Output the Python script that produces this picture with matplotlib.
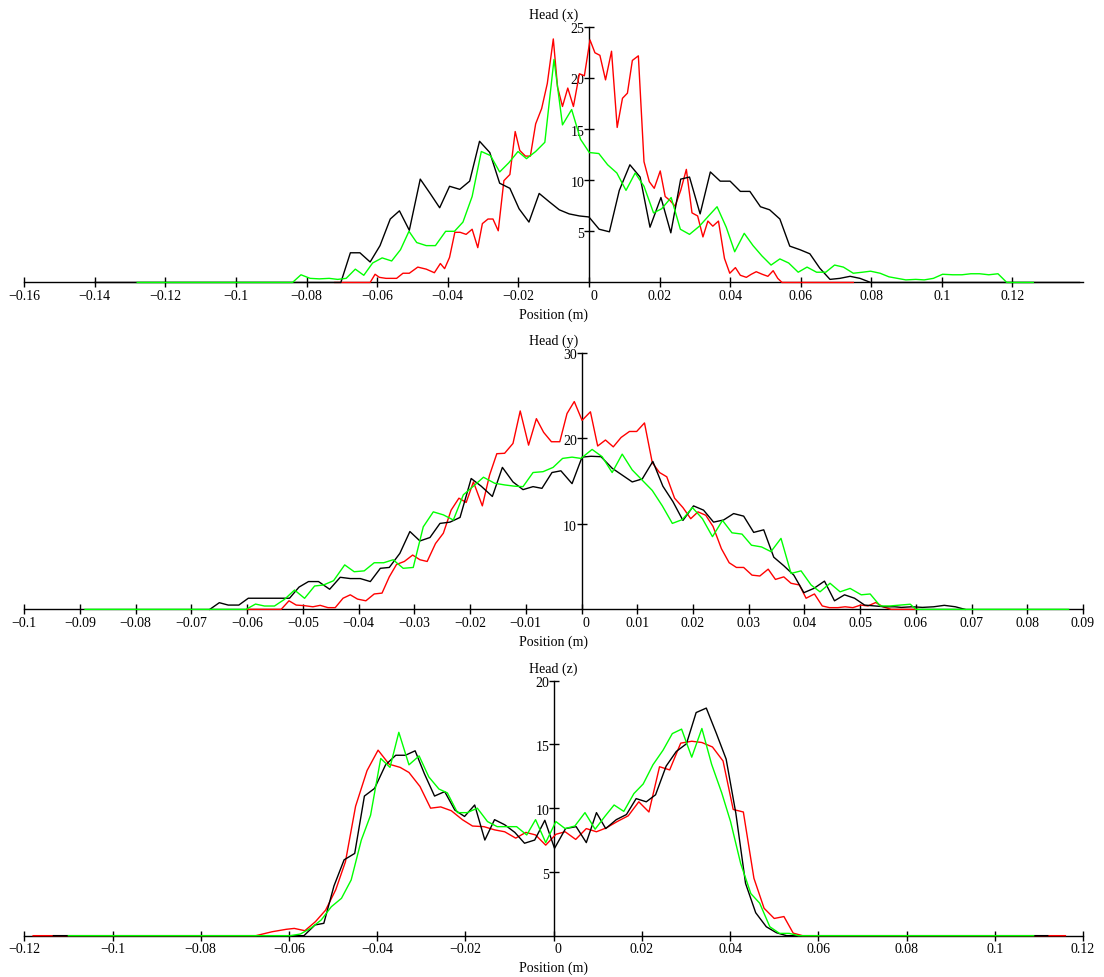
import matplotlib
matplotlib.use('Agg')
import matplotlib.pyplot as plt
import matplotlib.transforms as mtransforms

plt.rcParams['font.family'] = ['Liberation Serif', 'DejaVu Serif']
plt.rcParams['font.size'] = 10

# ---------------------------------------------------------------
# Head (x)
headx_black_x = [-0.14, -0.0703, -0.0676, -0.0649, -0.0620, -0.0592, -0.0563, -0.0537, -0.0509,
                 -0.0478, -0.0450, -0.0423, -0.0395, -0.0366, -0.0338, -0.0310, -0.0281, -0.0253,
                 -0.0224, -0.0198, -0.0170, -0.0141, -0.0113, -0.0084, -0.0056, -0.0027, 0.0,
                 0.0029, 0.0058, 0.0086, 0.0116, 0.0145, 0.0173, 0.0204, 0.0232, 0.0260, 0.0285,
                 0.0315, 0.0344, 0.0372, 0.0400, 0.0429, 0.0456, 0.0486, 0.0512, 0.0541, 0.0569,
                 0.0598, 0.0626, 0.0654, 0.0683, 0.0711, 0.0740, 0.0768, 0.0798, 0.139]
headx_black_y = [0, 0, 2.9, 2.9, 2.0, 3.6, 6.2, 7.0, 5.1,
                 10.1, 8.7, 7.3, 9.4, 9.1, 9.9, 13.8, 12.7, 9.7,
                 9.2, 7.2, 5.9, 8.7, 7.9, 7.1, 6.7, 6.5, 6.4,
                 5.2, 4.95, 9.0, 11.5, 10.3, 5.4, 8.3, 4.85, 10.1, 10.3,
                 6.7, 10.8, 9.9, 9.9, 8.9, 8.9, 7.4, 7.1, 6.2, 3.55,
                 3.2, 2.8, 1.4, 0.3, 0.4, 0.6, 0.4, 0, 0]

headx_green_x = [-0.128, -0.084, -0.0816, -0.0790, -0.0764, -0.0736, -0.0712, -0.0688, -0.0662,
                 -0.0638, -0.0613, -0.0586, -0.0559, -0.0534, -0.0510, -0.0488, -0.0461, -0.0435,
                 -0.0406, -0.0381, -0.0357, -0.0331, -0.0305, -0.0279, -0.0253, -0.0227, -0.0201,
                 -0.0177, -0.0151, -0.0125, -0.0099, -0.0075, -0.0049, -0.0024, 0.0001, 0.0028,
                 0.0053, 0.0079, 0.0105, 0.0131, 0.0156, 0.0183, 0.0206, 0.0233, 0.0259, 0.0285,
                 0.0313, 0.0339, 0.0363, 0.0389, 0.0413, 0.0440, 0.0465, 0.0490, 0.0516, 0.0541,
                 0.0566, 0.0593, 0.0618, 0.0645, 0.0671, 0.0696, 0.0721, 0.0749, 0.0775, 0.0798,
                 0.0825, 0.0850, 0.0874, 0.0898, 0.0926, 0.0950, 0.0976, 0.1002, 0.1031, 0.1057,
                 0.1082, 0.1107, 0.1133, 0.1159, 0.1184, 0.1259]
headx_green_y = [0, 0, 0.75, 0.4, 0.35, 0.4, 0.3, 0.4, 1.3,
                 0.7, 1.9, 2.4, 2.1, 3.2, 5.0, 3.9, 3.6, 3.6,
                 5.0, 5.0, 5.9, 8.4, 12.8, 12.4, 10.8, 11.7, 12.8,
                 12.1, 12.8, 13.7, 21.8, 15.4, 16.9, 14.0, 12.7, 12.6,
                 11.5, 10.7, 9.0, 10.7, 9.4, 6.8, 7.2, 8.3, 5.2, 4.7,
                 5.5, 6.5, 7.4, 5.4, 3.0, 4.8, 3.6, 2.6, 1.7, 2.3,
                 1.9, 1.0, 1.5, 1.0, 1.0, 1.7, 1.5, 0.9, 1.0, 1.1,
                 0.9, 0.55, 0.4, 0.25, 0.3, 0.25, 0.4, 0.8, 0.75, 0.75,
                 0.85, 0.85, 0.75, 0.85, 0, 0]

headx_red_x = [-0.072, -0.0620, -0.0606, -0.0594, -0.0575, -0.0545, -0.0527, -0.0509, -0.0485,
               -0.0461, -0.0438, -0.0421, -0.0409, -0.0395, -0.0380, -0.0365, -0.0348, -0.0331,
               -0.0315, -0.0302, -0.0286, -0.0272, -0.0257, -0.0241, -0.0224, -0.0209, -0.0196,
               -0.0180, -0.0166, -0.0151, -0.0134, -0.0118, -0.0101, -0.0089, -0.0075, -0.0060,
               -0.0044, -0.0027, -0.0013, 0.0003, 0.0017, 0.0031, 0.0047, 0.0064, 0.0080, 0.0095,
               0.0109, 0.0123, 0.0140, 0.0156, 0.0171, 0.0185, 0.0202, 0.0216, 0.0230, 0.0244,
               0.0260, 0.0276, 0.0292, 0.0308, 0.0323, 0.0337, 0.0351, 0.0367, 0.0384, 0.0399,
               0.0415, 0.0429, 0.0446, 0.0460, 0.0474, 0.0491, 0.0507, 0.0522, 0.0535, 0.0547,
               0.0749]
headx_red_y = [0, 0, 0.8, 0.5, 0.4, 0.4, 0.9, 0.9, 1.5,
               1.3, 0.95, 1.85, 1.35, 2.45, 4.9, 4.9, 4.7, 5.2,
               3.4, 5.75, 6.2, 6.2, 5.05, 9.95, 10.55, 14.75, 12.9,
               12.35, 12.35, 15.5, 17.0, 19.45, 23.8, 19.1, 17.2, 19.0,
               17.2, 20.4, 20.2, 23.7, 22.45, 22.2, 19.8, 22.6, 15.15, 18.0,
               18.5, 21.7, 22.15, 11.8, 9.85, 9.2, 10.9, 8.4, 8.0, 7.45,
               9.0, 11.05, 6.8, 6.5, 4.45, 6.0, 5.5, 6.0, 2.35, 0.9,
               1.45, 0.7, 0.5, 0.8, 1.05, 0.8, 0.6, 1.15, 0.4, 0,
               0]

# ---------------------------------------------------------------
# Head (y)
heady_black_x = [-0.0667, -0.0650, -0.0634, -0.0615, -0.0598, -0.0524, -0.0507, -0.0490, -0.0472,
                 -0.0452, -0.0433, -0.0415, -0.0397, -0.0379, -0.0361, -0.0345, -0.0326, -0.0308,
                 -0.0290, -0.0272, -0.0254, -0.0236, -0.0218, -0.0198, -0.0180, -0.0160, -0.0142,
                 -0.0123, -0.0105, -0.0087, -0.0071, -0.0053, -0.0037, -0.0017, 0.0001, 0.0017,
                 0.0035, 0.0055, 0.0073, 0.0091, 0.0109, 0.0128, 0.0146, 0.0164, 0.0182, 0.0201,
                 0.0219, 0.0237, 0.0255, 0.0273, 0.0291, 0.0309, 0.0327, 0.0345, 0.0363, 0.0381,
                 0.0399, 0.0417, 0.0436, 0.0454, 0.0472, 0.0490, 0.0508, 0.0526, 0.0544, 0.0562,
                 0.0574, 0.0593, 0.0612, 0.0632, 0.0651, 0.0671, 0.0688]
heady_black_y = [0, 0.78, 0.5, 0.5, 1.3, 1.3, 2.6, 3.25, 3.25,
                 2.35, 3.75, 3.6, 3.6, 3.25, 4.8, 4.9, 6.55, 9.1,
                 8.0, 8.4, 10.05, 10.2, 10.75, 15.3, 14.4, 13.2, 16.6,
                 14.9, 14.0, 14.35, 14.15, 16.0, 16.2, 14.7, 17.8, 17.9,
                 17.85, 16.5, 15.7, 14.9, 15.25, 17.3, 14.4, 12.6, 10.4, 12.1,
                 11.6, 10.2, 10.45, 11.2, 10.9, 9.0, 9.3, 6.1, 5.1, 4.0,
                 1.95, 2.45, 3.3, 1.0, 1.7, 1.3, 0.5, 0.4, 0.3, 0.3,
                 0.23, 0.3, 0.23, 0.3, 0.47, 0.3, 0]

heady_green_x = [-0.0891, -0.0602, -0.0585, -0.0569, -0.0551, -0.0533, -0.0515, -0.0497, -0.0479,
                 -0.0463, -0.0445, -0.0425, -0.0408, -0.0390, -0.0372, -0.0355, -0.0338, -0.0320,
                 -0.0302, -0.0284, -0.0266, -0.0248, -0.0230, -0.0212, -0.0194, -0.0176, -0.0156,
                 -0.0138, -0.0120, -0.0105, -0.0087, -0.0069, -0.0051, -0.0034, -0.0017, -0.0001,
                 0.0019, 0.0037, 0.0055, 0.0073, 0.0091, 0.0109, 0.0127, 0.0145, 0.0163, 0.0181,
                 0.0199, 0.0217, 0.0235, 0.0253, 0.0270, 0.0288, 0.0305, 0.0323, 0.0340, 0.0358,
                 0.0376, 0.0394, 0.0412, 0.0428, 0.0446, 0.0464, 0.0482, 0.0502, 0.0518, 0.0536,
                 0.0554, 0.0572, 0.0590, 0.0600, 0.0874]
heady_green_y = [0, 0, 0.62, 0.39, 0.39, 1.17, 2.26, 1.29, 2.73,
                 2.85, 3.35, 5.2, 4.4, 4.5, 5.45, 5.45, 5.8, 4.8,
                 4.9, 9.65, 11.4, 11.05, 10.45, 13.4, 14.4, 15.45, 14.75,
                 14.55, 14.4, 14.35, 16.0, 16.1, 16.6, 17.65, 17.8, 17.65,
                 18.7, 17.85, 16.0, 18.15, 16.3, 15.1, 13.9, 12.1, 10.05, 10.5,
                 11.9, 10.6, 8.5, 10.4, 8.95, 8.8, 7.5, 7.3, 6.75, 8.3,
                 4.2, 4.5, 2.85, 2.05, 3.05, 2.05, 2.45, 1.7, 1.8, 0.4,
                 0.4, 0.5, 0.6, 0, 0]

heady_red_x = [-0.0600, -0.0539, -0.0525, -0.0512, -0.0497, -0.0482, -0.0469, -0.0455, -0.0442,
               -0.0428, -0.0415, -0.0402, -0.0387, -0.0372, -0.0358, -0.0345, -0.0332, -0.0318,
               -0.0303, -0.0290, -0.0277, -0.0262, -0.0248, -0.0234, -0.0220, -0.0207, -0.0194,
               -0.0178, -0.0165, -0.0152, -0.0138, -0.0123, -0.0110, -0.0095, -0.0081, -0.0068,
               -0.0054, -0.0039, -0.0026, -0.0013, 0.0001, 0.0016, 0.0029, 0.0043, 0.0057, 0.0071,
               0.0086, 0.0099, 0.0113, 0.0127, 0.0140, 0.0153, 0.0167, 0.0182, 0.0196, 0.0209,
               0.0223, 0.0236, 0.0251, 0.0265, 0.0278, 0.0291, 0.0306, 0.0320, 0.0335, 0.0348,
               0.0363, 0.0376, 0.0391, 0.0403, 0.0418, 0.0432, 0.0445, 0.0460, 0.0473, 0.0487,
               0.0501, 0.0514, 0.0528, 0.0541, 0.0556, 0.0603]
heady_red_y = [0, 0, 1.0, 0.5, 0.43, 0.3, 0.47, 0.2, 0.2,
               1.3, 1.7, 1.2, 1.0, 1.8, 1.9, 3.8, 5.25, 5.6,
               6.35, 5.8, 5.6, 7.7, 8.9, 11.6, 13.0, 12.5, 14.9,
               12.1, 15.7, 18.2, 18.25, 19.4, 23.2, 19.2, 22.3, 20.7,
               19.6, 19.6, 22.9, 24.3, 22.1, 23.1, 19.1, 19.8, 19.0, 20.1,
               20.8, 20.8, 21.8, 17.15, 16.0, 15.5, 13.0, 11.9, 10.6, 11.4,
               11.0, 9.7, 7.1, 5.45, 4.9, 4.9, 4.0, 3.9, 4.7, 3.5,
               3.8, 3.05, 2.85, 1.3, 1.8, 0.4, 0.2, 0.2, 0.3, 0.2,
               0.5, 0.4, 0.8, 0.3, 0, 0]

# ---------------------------------------------------------------
# Head (z)
headz_black_x = [-0.1134, -0.0566, -0.0541, -0.0521, -0.0498, -0.0475, -0.0451, -0.0429, -0.0406,
                 -0.0381, -0.0358, -0.0336, -0.0314, -0.0293, -0.0270, -0.0247, -0.0224, -0.0202,
                 -0.0179, -0.0156, -0.0134, -0.0111, -0.0088, -0.0066, -0.0043, -0.0020, 0.0002,
                 0.0027, 0.0051, 0.0074, 0.0097, 0.0118, 0.0142, 0.0165, 0.0187, 0.0210, 0.0231,
                 0.0255, 0.0278, 0.0301, 0.0323, 0.0346, 0.0369, 0.0391, 0.0413, 0.0435, 0.0458,
                 0.0482, 0.0505, 0.0528, 0.1120]
headz_black_y = [0, 0, 0.84, 0.97, 3.9, 5.95, 6.45, 10.95, 11.55,
                 13.4, 14.15, 14.15, 14.5, 12.7, 10.95, 11.3, 9.85, 9.35,
                 10.25, 7.5, 9.1, 8.7, 8.1, 7.25, 7.5, 9.05, 6.85,
                 8.4, 8.55, 7.3, 9.65, 8.4, 9.1, 9.5, 10.75, 10.5, 11.05,
                 13.3, 14.45, 15.05, 17.5, 17.85, 15.85, 13.85, 9.6, 4.1, 1.8,
                 0.7, 0.23, 0, 0]

headz_green_x = [-0.1100, -0.0597, -0.0574, -0.0551, -0.0527, -0.0504, -0.0481, -0.0459, -0.0436,
                 -0.0415, -0.0392, -0.0371, -0.0351, -0.0328, -0.0305, -0.0283, -0.0260, -0.0241,
                 -0.0218, -0.0196, -0.0173, -0.0150, -0.0128, -0.0105, -0.0084, -0.0061, -0.0041,
                 -0.0018, 0.0005, 0.0026, 0.0048, 0.0071, 0.0094, 0.0116, 0.0137, 0.0159, 0.0182,
                 0.0203, 0.0225, 0.0248, 0.0269, 0.0290, 0.0313, 0.0336, 0.0358, 0.0381, 0.0401,
                 0.0424, 0.0447, 0.0467, 0.0490, 0.0512, 0.0534, 0.0555, 0.1088]
headz_green_y = [0, 0, 0.13, 0.58, 1.23, 2.27, 2.93, 4.37, 7.5,
                 9.45, 13.9, 13.2, 15.95, 13.4, 14.1, 12.45, 11.5, 11.2,
                 9.65, 9.65, 10.0, 8.95, 8.55, 8.55, 8.55, 7.9, 9.1,
                 7.3, 8.95, 8.4, 8.6, 9.65, 8.35, 9.35, 10.25, 9.75, 11.15,
                 11.9, 13.4, 14.55, 15.85, 16.2, 14.0, 16.25, 13.45, 11.2, 8.95,
                 5.65, 3.3, 2.55, 0.7, 0.18, 0.18, 0, 0]

headz_red_x = [-0.1180, -0.0675, -0.0638, -0.0606, -0.0588, -0.0564, -0.0540, -0.0517, -0.0494,
               -0.0472, -0.0449, -0.0423, -0.0398, -0.0373, -0.0348, -0.0328, -0.0303, -0.0279,
               -0.0256, -0.0232, -0.0207, -0.0184, -0.0158, -0.0134, -0.0111, -0.0086, -0.0063,
               -0.0041, -0.0018, 0.0005, 0.0026, 0.0050, 0.0074, 0.0097, 0.0119, 0.0144, 0.0169,
               0.0193, 0.0216, 0.0240, 0.0263, 0.0288, 0.0313, 0.0336, 0.0360, 0.0384, 0.0407,
               0.0430, 0.0454, 0.0477, 0.0500, 0.0522, 0.0543, 0.0564, 0.1160]
headz_red_y = [0, 0, 0.31, 0.5, 0.57, 0.39, 1.1, 2.0, 3.6,
               5.8, 10.15, 12.95, 14.55, 13.45, 13.2, 12.8, 11.7, 10.0,
               10.1, 9.8, 9.1, 8.6, 8.55, 8.3, 8.15, 7.65, 8.1,
               7.9, 7.1, 7.95, 8.15, 7.55, 8.4, 8.15, 8.45, 8.95, 9.4,
               10.5, 9.7, 13.25, 13.0, 15.1, 15.25, 15.15, 14.8, 13.7, 9.9,
               9.7, 4.5, 2.15, 1.35, 1.5, 0.2, 0, 0]

# axis ticks for each panel
headx_xticks = [-0.16, -0.14, -0.12, -0.1, -0.08, -0.06, -0.04, -0.02, 0, 0.02, 0.04, 0.06, 0.08, 0.1, 0.12]
headx_yticks = [5, 10, 15, 20, 25]
heady_xticks = [-0.1, -0.09, -0.08, -0.07, -0.06, -0.05, -0.04, -0.03, -0.02, -0.01, 0,
                0.01, 0.02, 0.03, 0.04, 0.05, 0.06, 0.07, 0.08, 0.09]
heady_yticks = [10, 20, 30]
headz_xticks = [-0.12, -0.1, -0.08, -0.06, -0.04, -0.02, 0, 0.02, 0.04, 0.06, 0.08, 0.1, 0.12]
headz_yticks = [5, 10, 15, 20]


def tick_text(v):
    # mathcad style labels: long minus sign, no trailing zeros
    return ('%g' % v).replace('-', '\u2212')


def draw_panel(fig, rect, series, xlim, ylim, xticks, yticks, title):

    ax = fig.add_axes(rect)

    for xs, ys, colour in series:
        ax.plot(xs, ys, color=colour, lw=1.0, zorder=3, clip_on=False)

    ax.set_xlim(*xlim)
    ax.set_ylim(*ylim)

    # axes cross at the origin
    ax.spines['left'].set_position(('data', 0))
    ax.spines['bottom'].set_position(('data', 0))
    ax.spines['right'].set_visible(False)
    ax.spines['top'].set_visible(False)
    for s in ['left', 'bottom']:
        ax.spines[s].set_linewidth(1.0)
        ax.spines[s].set_zorder(2)

    ax.set_xticks(xticks, [tick_text(t) for t in xticks])
    ax.set_yticks(yticks, [tick_text(t) for t in yticks])
    ax.tick_params(direction='inout', length=6.5, width=1.0, labelsize=10)
    ax.tick_params(axis='x', pad=2)
    ax.tick_params(axis='y', pad=0)

    ax.set_title(title, fontsize=10, pad=6, y=1.0)
    ax.set_xlabel('Position (m)', fontsize=10, labelpad=4)

    # the zero label sits a little right of the vertical axis,
    # the y labels sit a touch below their ticks
    shift = mtransforms.ScaledTranslation(3.4 / 72, 0, fig.dpi_scale_trans)
    for lbl in ax.get_xticklabels():
        if lbl.get_text() == '0':
            lbl.set_transform(lbl.get_transform() + shift)
    drop = mtransforms.ScaledTranslation(0, -1.2 / 72, fig.dpi_scale_trans)
    for lbl in ax.get_yticklabels():
        lbl.set_transform(lbl.get_transform() + drop)

    return ax


fig = plt.figure(figsize=(11.04, 9.77), dpi=100)

left = 0.0220
width = 0.9590

draw_panel(fig, [left, 0.7109, width, 0.2618],
           [(headx_red_x, headx_red_y, '#ff0000'),
            (headx_black_x, headx_black_y, '#000000'),
            (headx_green_x, headx_green_y, '#00ff00')],
           (-0.16, 0.14), (0, 25), headx_xticks, headx_yticks, 'Head (x)')

draw_panel(fig, [left, 0.3763, width, 0.2626],
           [(heady_red_x, heady_red_y, '#ff0000'),
            (heady_black_x, heady_black_y, '#000000'),
            (heady_green_x, heady_green_y, '#00ff00')],
           (-0.1, 0.09), (0, 30), heady_xticks, heady_yticks, 'Head (y)')

draw_panel(fig, [left, 0.0423, width, 0.2610],
           [(headz_red_x, headz_red_y, '#ff0000'),
            (headz_black_x, headz_black_y, '#000000'),
            (headz_green_x, headz_green_y, '#00ff00')],
           (-0.12, 0.12), (0, 20), headz_xticks, headz_yticks, 'Head (z)')

fig.savefig('out.png', dpi=100)
